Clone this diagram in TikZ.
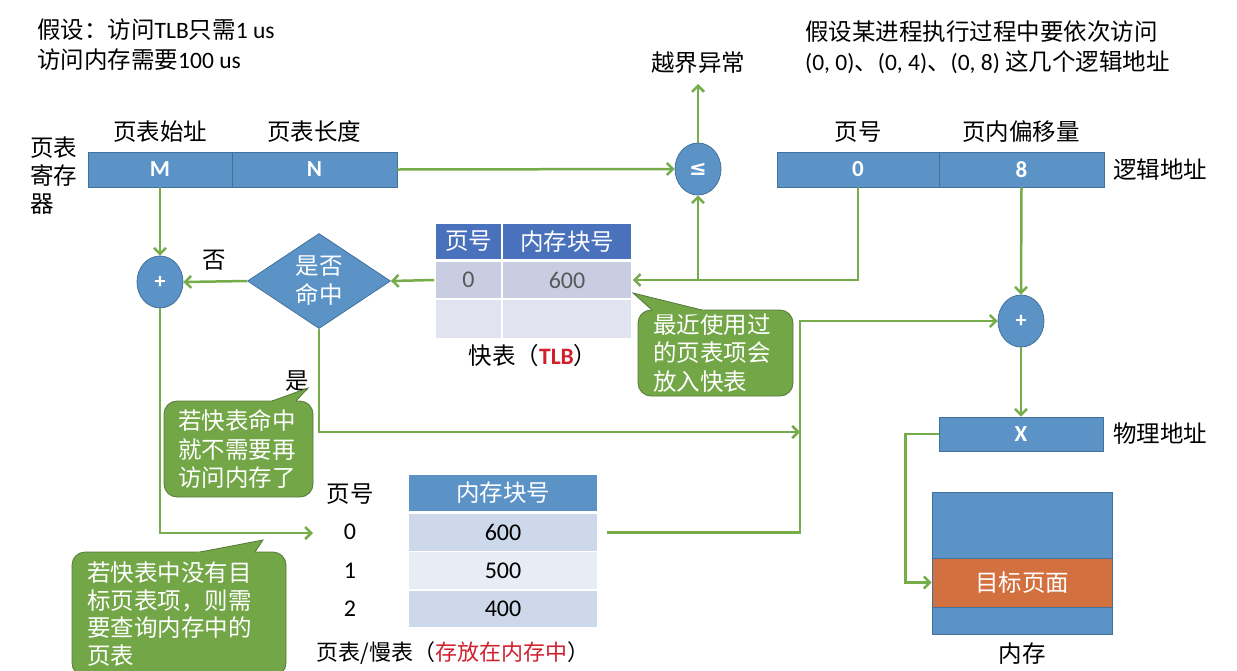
\documentclass[tikz,border=0pt]{standalone}
\usepackage{fontspec}
\setmainfont{Noto Sans CJK SC}
\newfontfamily\lat{Carlito}
\newfontfamily\dv{DejaVu Sans}
\usetikzlibrary{arrows.meta,shapes.geometric,calc}
\definecolor{boxblue}{HTML}{5B93C7}
\definecolor{boxedge}{HTML}{41719C}
\definecolor{arrgreen}{HTML}{77AC4A}
\definecolor{callgreen}{HTML}{72A646}
\definecolor{calledge}{HTML}{55783A}
\definecolor{tlbhead}{HTML}{4A71BC}
\definecolor{tlbrow1}{HTML}{C8CDE2}
\definecolor{tlbrow2}{HTML}{E1E4F0}
\definecolor{tlbtext}{HTML}{595959}
\definecolor{pthead}{HTML}{5B93C7}
\definecolor{ptrow1}{HTML}{CDD8EA}
\definecolor{ptrow2}{HTML}{E8EDF5}
\definecolor{orangepage}{HTML}{D3703F}
\definecolor{redtext}{HTML}{D0202E}
\tikzset{
 txt/.style={font=\fontsize{23.5}{29}\selectfont, inner sep=0pt},
 bluebox/.style={fill=boxblue, draw=boxedge, line width=0.8pt, text=white, font=\lat\bfseries\fontsize{23}{28}\selectfont, inner sep=0pt, minimum height=35},
 opnode/.style={ellipse, fill=boxblue, draw=boxedge, line width=0.8pt, text=white, minimum width=46, minimum height=52, inner sep=0pt},
 arr/.style={draw=arrgreen, line width=2.5pt, -{Straight Barb[length=6pt,width=12pt]}},
 cell/.style={draw=white, line width=1.5pt, inner sep=0pt},
 callbox/.style={fill=callgreen, draw=calledge, line width=0.8pt, rounded corners=13pt, text=white, font=\fontsize{23.5}{28.5}\selectfont, align=left, inner ysep=0pt},
 callptr/.style={draw=calledge, line width=0.8pt},
}
\begin{document}
\begin{tikzpicture}[x=1pt,y=-1pt]
\useasboundingbox (0,0) rectangle (1237,670);
\fill[white] (0,0) rectangle (1237,670);

% top texts
\node[txt, anchor=west, align=left, font=\fontsize{23.5}{30}\selectfont] (asm) at (37,45) {假设：访问{\lat TLB}只需{\lat 1 us}\\访问内存需要{\lat 100 us}};
\node[txt, anchor=west, align=left, font=\fontsize{23.5}{30}\selectfont] (seq) at (805,47) {假设某进程执行过程中要依次访问\\{\lat (0, 0)}、{\lat (0, 4)}、{\lat (0, 8)} 这几个逻辑地址};

% page table register
\node[bluebox, minimum width=144] (M) at (160,169.5) {M};
\node[bluebox, minimum width=165] (N) at (314.5,169.5) {N};
\node[txt] (lM) at (160,132) {页表始址};
\node[txt] (lN) at (314,132) {页表长度};
\node[txt, anchor=west, align=left, font=\fontsize{23.5}{28}\selectfont] (reg) at (30,176) {页表\\寄存\\器};

% compare
\node[opnode] (le) at (698,169) {\dv\bfseries\fontsize{21}{21}\selectfont ≤};
\node[txt] (exc) at (698,63) {越界异常};
\coordinate (excin) at (698,84);

% logical address
\node[bluebox, minimum width=162] (la0) at (858,169.5) {0};
\node[bluebox, minimum width=165] (la8) at (1021.5,169.5) {8};
\node[txt] (lp) at (858,132) {页号};
\node[txt] (lo) at (1021,132) {页内偏移量};
\node[txt, anchor=west] (lla) at (1113,170) {逻辑地址};

% TLB
\node[cell, fill=tlbhead, minimum width=67, minimum height=37, text=white, font=\fontsize{23.5}{28}\selectfont] (th1) at (468.5,241.5) {页号};
\node[cell, fill=tlbhead, minimum width=130, minimum height=37, text=white, font=\fontsize{23.5}{28}\selectfont] (th2) at (567,241.5) {内存块号};
\node[cell, fill=tlbrow1, minimum width=67, minimum height=38, text=tlbtext, font=\lat\fontsize{24}{28}\selectfont] (t1a) at (468.5,280) {0};
\node[cell, fill=tlbrow1, minimum width=130, minimum height=38, text=tlbtext, font=\lat\fontsize{24}{28}\selectfont] (t1b) at (567,280) {600};
\node[cell, fill=tlbrow2, minimum width=67, minimum height=40] (t2a) at (468.5,319) {};
\node[cell, fill=tlbrow2, minimum width=130, minimum height=40] (t2b) at (567,319) {};
\node[txt] (tlbcap) at (533,356) {快表（{\lat\bfseries\color{redtext}TLB}）};

% hit diamond and adder
\node[diamond, fill=boxblue, draw=boxedge, line width=0.8pt, minimum width=143, minimum height=95, inner sep=0pt,
  label={[txt, text=white, align=center, font=\fontsize{23.5}{29}\selectfont]center:是否\\命中}] (hit) at (319,281) {};
\node[opnode] (p1) at (160,282) {\lat\bfseries\fontsize{22}{22}\selectfont +};
\node[txt] (no) at (214,260) {否};
\node[txt] (yes) at (297,381) {是};

% physical address
\node[opnode] (p2) at (1021,321) {\lat\bfseries\fontsize{22}{22}\selectfont +};
\node[bluebox, minimum width=164, minimum height=34] (X) at (1021,434) {X};
\node[txt, anchor=west] (lpa) at (1113,434) {物理地址};

% memory
\node[draw=boxedge, fill=boxblue, line width=0.8pt, minimum width=180, minimum height=142, inner sep=0pt] (mem) at (1022,563) {};
\node[draw=boxedge, fill=orangepage, line width=0.8pt, minimum width=180, minimum height=49, inner sep=0pt, text=white, font=\fontsize{23.5}{28}\selectfont] (tgt) at (1022,582.5) {目标页面};
\node[txt] (lmem) at (1022,654) {内存};

% page table
\node[cell, fill=pthead, minimum width=190, minimum height=37, text=white, font=\fontsize{23.5}{28}\selectfont] (ph) at (503,493) {内存块号};
\node[cell, fill=ptrow1, minimum width=190, minimum height=38, font=\lat\fontsize{24}{28}\selectfont] (pr1) at (503,532.5) {600};
\node[cell, fill=ptrow2, minimum width=190, minimum height=38, font=\lat\fontsize{24}{28}\selectfont] (pr2) at (503,570.5) {500};
\node[cell, fill=ptrow1, minimum width=190, minimum height=38, font=\lat\fontsize{24}{28}\selectfont] (pr3) at (503,609) {400};
\node[txt] (pnh) at (350,494) {页号};
\node[txt, font=\lat\fontsize{24}{28}\selectfont] (pn0) at (350,532) {0};
\node[txt, font=\lat\fontsize{24}{28}\selectfont] (pn1) at (350,571) {1};
\node[txt, font=\lat\fontsize{24}{28}\selectfont] (pn2) at (350,609) {2};
\node[txt, font=\fontsize{22}{28}\selectfont] (ptcap) at (453,653) {页表/慢表（{\color{redtext}存放在内存中}）};

% connectors
\coordinate (j1) at (800,432);
\coordinate (pin) at (313,533);
\draw[arr] (M.south) -- (p1.north);
\draw[arr] (N.east) -- (le.west);
\draw[arr] (le.north) -- (excin);
\draw[arr] (la0.south) |- (t1b.east);
\draw[arr] (le.south |- t1b.east) -- (le.south);
\draw[arr] (t1a.west) -- (hit.east);
\draw[arr] (hit.west) -- (p1.east);
\draw[arr] (hit.south) |- (j1);
\draw[arr] (p1.south) |- (pin);
\draw[arr] ([xshift=8pt]pr1.east) -| (j1) |- (p2.west);
\draw[arr] (la8.south) -- (p2.north);
\draw[arr] (p2.south) -- (X.north);
\draw[arr] (X.west) -- ++(-33,0) |- (tgt.west);

% callout 1
\coordinate (c1tip) at (633,293);
\coordinate (c1b1) at (652,310);
\coordinate (c1b2) at (702,310);
\node[callbox, minimum width=155, minimum height=86, text width=125, inner xsep=15] (c1) at (715.5,353) {最近使用过\\的页表项会\\放入快表};
\fill[callgreen] (c1tip) -- ($(c1tip)!1.25!(c1b1)$) -- ($(c1tip)!1.25!(c1b2)$) -- cycle;
\draw[callptr] (c1b1) -- (c1tip) -- (c1b2);

% callout 2
\coordinate (c2tip) at (308,388);
\coordinate (c2b1) at (272,401);
\coordinate (c2b2) at (296,401);
\node[callbox, minimum width=149, minimum height=96, text width=121, inner xsep=14] (c2) at (238.5,449) {若快表命中\\就不需要再\\访问内存了};
\fill[callgreen] (c2tip) -- ($(c2tip)!1.3!(c2b1)$) -- ($(c2tip)!1.3!(c2b2)$) -- cycle;
\draw[callptr] (c2b1) -- (c2tip) -- (c2b2);

% callout 3
\coordinate (c3tip) at (263,540);
\coordinate (c3b1) at (200,552);
\coordinate (c3b2) at (255,552);
\node[callbox, minimum width=214, minimum height=124, text width=184, inner xsep=15, font=\fontsize{23.5}{27.5}\selectfont] (c3) at (179,614) {若快表中没有目\\标页表项，则需\\要查询内存中的\\页表};
\fill[callgreen] (c3tip) -- ($(c3tip)!1.35!(c3b1)$) -- ($(c3tip)!1.35!(c3b2)$) -- cycle;
\draw[callptr] (c3b1) -- (c3tip) -- (c3b2);
\end{tikzpicture}
\end{document}
